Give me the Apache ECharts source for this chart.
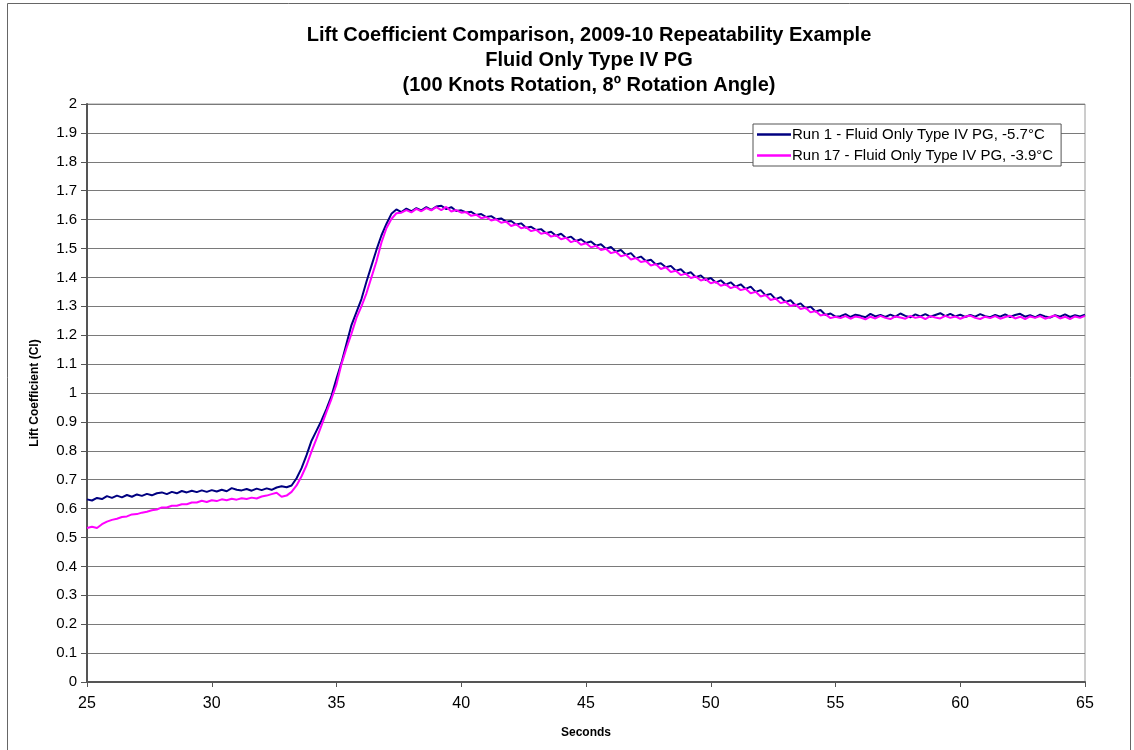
<!DOCTYPE html>
<html>
<head>
<meta charset="utf-8">
<script src="https://cdn.jsdelivr.net/npm/echarts@6/dist/echarts.min.js"></script>
<style>
html,body{margin:0;padding:0;background:#fff;}
#chart{width:1134px;height:750px;}
</style>
</head>
<body>
<div id="chart"></div>
<script>
// Sampling of both runs: start time and step (seconds)
const tStart = 25.0;
const tStep = 0.2;

const titleLines = [
  "Lift Coefficient Comparison, 2009-10 Repeatability Example",
  "Fluid Only Type IV PG",
  "(100 Knots Rotation, 8º Rotation Angle)"
];
const seriesNames = [
  "Run 1 - Fluid Only Type IV PG, -5.7°C",
  "Run 17 - Fluid Only Type IV PG, -3.9°C"
];
const xTicks = [25, 30, 35, 40, 45, 50, 55, 60, 65];

// Run 1 lift coefficient, t = 25.0 .. 65.0 every 0.2 s
const run1 = [
  0.632,0.628,0.637,0.633,0.643,0.637,0.645,0.639,0.647,0.641,0.649,
  0.644,0.651,0.646,0.653,0.656,0.650,0.658,0.653,0.661,0.656,
  0.662,0.657,0.663,0.658,0.664,0.659,0.665,0.660,0.671,0.665,
  0.663,0.668,0.662,0.669,0.664,0.670,0.665,0.673,0.677,0.674,
  0.680,0.705,0.740,0.785,0.835,0.870,0.905,0.945,0.990,1.050,
  1.105,1.170,1.235,1.280,1.325,1.385,1.440,1.495,1.545,1.585,
  1.620,1.635,1.626,1.638,1.629,1.640,1.632,1.643,1.634,1.645,
  1.648,1.636,1.643,1.630,1.632,1.625,1.627,1.616,1.619,1.609,
  1.612,1.601,1.604,1.593,1.595,1.583,1.587,1.572,1.575,1.564,
  1.567,1.553,1.558,1.544,1.551,1.536,1.541,1.526,1.532,1.519,
  1.524,1.510,1.515,1.499,1.505,1.489,1.495,1.478,1.484,1.466,
  1.472,1.457,1.461,1.445,1.449,1.435,1.440,1.423,1.428,1.412,
  1.418,1.401,1.407,1.391,1.398,1.382,1.390,1.375,1.383,1.368,
  1.376,1.360,1.368,1.350,1.356,1.338,1.343,1.325,1.332,1.315,
  1.321,1.303,1.310,1.293,1.299,1.282,1.287,1.270,1.275,1.264,
  1.266,1.273,1.263,1.271,1.267,1.262,1.274,1.265,1.270,1.263,
  1.271,1.264,1.275,1.267,1.262,1.272,1.265,1.273,1.264,1.270,
  1.276,1.266,1.274,1.265,1.271,1.263,1.270,1.264,1.273,1.266,
  1.262,1.270,1.264,1.272,1.263,1.270,1.274,1.264,1.269,1.262,
  1.271,1.265,1.261,1.269,1.264,1.272,1.263,1.269,1.265,1.271
];

// Run 17 lift coefficient, t = 25.0 .. 65.0 every 0.2 s
const run17 = [
  0.533,0.537,0.533,0.546,0.555,0.561,0.565,0.571,0.573,0.580,0.581,
  0.586,0.589,0.594,0.597,0.604,0.604,0.610,0.610,0.615,0.615,
  0.621,0.621,0.627,0.623,0.629,0.626,0.632,0.629,0.634,0.631,
  0.636,0.633,0.638,0.635,0.642,0.645,0.650,0.655,0.641,0.645,
  0.658,0.680,0.712,0.750,0.798,0.842,0.888,0.935,0.980,1.030,
  1.100,1.155,1.205,1.260,1.300,1.345,1.400,1.455,1.520,1.570,
  1.602,1.622,1.624,1.633,1.625,1.637,1.629,1.640,1.632,1.643,
  1.633,1.644,1.628,1.633,1.624,1.626,1.613,1.617,1.605,1.609,
  1.597,1.601,1.589,1.593,1.578,1.584,1.570,1.574,1.560,1.565,
  1.551,1.555,1.541,1.546,1.532,1.537,1.522,1.528,1.513,1.518,
  1.504,1.509,1.495,1.499,1.484,1.489,1.473,1.478,1.462,1.467,
  1.453,1.457,1.441,1.446,1.429,1.435,1.419,1.423,1.408,1.413,
  1.398,1.403,1.389,1.394,1.380,1.385,1.371,1.376,1.363,1.369,
  1.356,1.361,1.345,1.350,1.334,1.339,1.322,1.327,1.311,1.316,
  1.301,1.306,1.291,1.295,1.279,1.284,1.268,1.272,1.259,1.264,
  1.259,1.266,1.257,1.265,1.261,1.255,1.264,1.258,1.267,1.260,
  1.256,1.265,1.261,1.257,1.267,1.260,1.264,1.256,1.266,1.261,
  1.258,1.267,1.260,1.265,1.257,1.264,1.268,1.260,1.256,1.264,
  1.259,1.266,1.257,1.263,1.267,1.258,1.264,1.256,1.265,1.260,
  1.266,1.257,1.263,1.268,1.258,1.264,1.256,1.265,1.260,1.267
];

function pairs(vals) {
  return vals.map((v, i) => [+(tStart + i * tStep).toFixed(2), v]);
}

const FONT = '"Liberation Sans", Arial, sans-serif';
const chart = echarts.init(document.getElementById('chart'), null, {renderer: 'canvas'});

chart.setOption({
  backgroundColor: '#ffffff',
  animation: false,
  title: {
    text: titleLines.join('\n'),
    left: 584,
    textAlign: 'center',
    top: 18,
    textStyle: {
      fontFamily: FONT, fontSize: 20, fontWeight: 'bold', color: '#000', lineHeight: 25
    }
  },
  legend: {
    orient: 'vertical',
    left: 753,
    top: 124,
    padding: [3, 8, 3, 4],
    itemGap: 6,
    itemWidth: 34,
    itemHeight: 15,
    backgroundColor: '#fff',
    borderColor: '#555',
    borderWidth: 1,
    borderRadius: 0,
    icon: 'path://M0,6 L34,6 L34,8.5 L0,8.5 Z',
    textStyle: {fontFamily: FONT, fontSize: 15, color: '#000', padding: [0, 0, 0, -4]},
    data: seriesNames
  },
  grid: {
    left: 87, right: 49, top: 104, bottom: 68,
    show: true, borderColor: '#9a9a9a', borderWidth: 1, backgroundColor: '#fff'
  },
  xAxis: {
    type: 'value',
    min: 25, max: 65, interval: 5,
    name: 'Seconds',
    nameLocation: 'middle',
    nameGap: 45,
    nameTextStyle: {fontFamily: FONT, fontSize: 12, fontWeight: 'bold', color: '#000'},
    axisLine: {show: true, onZero: false, lineStyle: {color: '#555', width: 2}},
    axisTick: {show: true, inside: false, length: 5, lineStyle: {color: '#555', width: 1}},
    axisLabel: {
      fontFamily: FONT, fontSize: 16, color: '#000', margin: 14,
      customValues: xTicks
    },
    splitLine: {show: false}
  },
  yAxis: {
    type: 'value',
    min: 0, max: 2, interval: 0.1,
    name: 'Lift Coefficient (Cl)',
    nameLocation: 'middle',
    nameGap: 46,
    nameRotate: 90,
    nameTextStyle: {fontFamily: FONT, fontSize: 12, fontWeight: 'bold', color: '#000'},
    axisLine: {show: true, lineStyle: {color: '#555', width: 2}},
    axisTick: {show: true, inside: false, length: 6, lineStyle: {color: '#555', width: 1}},
    axisLabel: {
      fontFamily: FONT, fontSize: 15, color: '#000', margin: 10,
      formatter: v => String(+v.toFixed(1))
    },
    splitLine: {show: true, lineStyle: {color: '#7a7a7a', width: 1}}
  },
  graphic: [{
    type: 'rect',
    shape: {x: 7.5, y: 3.5, width: 1123, height: 800},
    style: {fill: 'none', stroke: '#666', lineWidth: 1},
    silent: true, z: 100
  }],
  series: [
    {
      name: seriesNames[0],
      type: 'line',
      data: pairs(run1),
      showSymbol: false,
      symbol: 'none',
      lineStyle: {color: '#000080', width: 2},
      itemStyle: {color: '#000080'},
      z: 3
    },
    {
      name: seriesNames[1],
      type: 'line',
      data: pairs(run17),
      showSymbol: false,
      symbol: 'none',
      lineStyle: {color: '#ff00ff', width: 2},
      itemStyle: {color: '#ff00ff'},
      z: 4
    }
  ]
});
</script>
</body>
</html>
